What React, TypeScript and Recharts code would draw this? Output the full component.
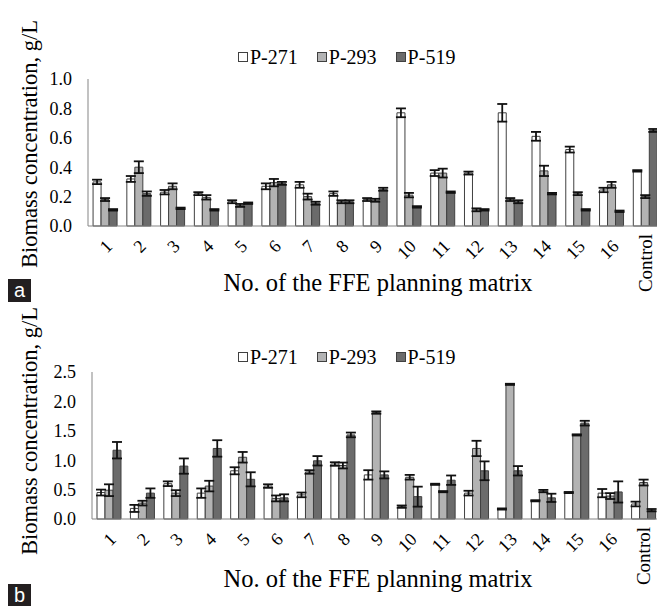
import { BarChart, Bar, XAxis, YAxis, ErrorBar } from "recharts";

const categories = ["1", "2", "3", "4", "5", "6", "7", "8", "9", "10", "11", "12", "13", "14", "15", "16", "Control"];

// panel a
const a271 = [0.3, 0.32, 0.23, 0.22, 0.165, 0.27, 0.28, 0.22, 0.18, 0.77, 0.36, 0.36, 0.77, 0.61, 0.52, 0.245, 0.375];
const a293 = [0.18, 0.4, 0.27, 0.195, 0.14, 0.295, 0.2, 0.165, 0.175, 0.21, 0.36, 0.11, 0.18, 0.375, 0.22, 0.28, 0.2];
const a519 = [0.11, 0.22, 0.12, 0.11, 0.155, 0.29, 0.155, 0.165, 0.25, 0.13, 0.23, 0.11, 0.165, 0.22, 0.11, 0.1, 0.65];
const a271Err = [0.015, 0.02, 0.015, 0.01, 0.01, 0.02, 0.02, 0.015, 0.01, 0.03, 0.02, 0.01, 0.06, 0.03, 0.02, 0.015, 0.005];
const a293Err = [0.01, 0.04, 0.02, 0.015, 0.01, 0.025, 0.02, 0.01, 0.01, 0.015, 0.03, 0.01, 0.01, 0.035, 0.01, 0.02, 0.01];
const a519Err = [0.005, 0.015, 0.005, 0.005, 0.005, 0.01, 0.01, 0.01, 0.01, 0.005, 0.005, 0.005, 0.01, 0.005, 0.005, 0.005, 0.01];

// panel b
const b271 = [0.45, 0.18, 0.6, 0.44, 0.82, 0.56, 0.41, 0.935, 0.75, 0.21, 0.59, 0.44, 0.17, 0.31, 0.45, 0.44, 0.255];
const b293 = [0.49, 0.27, 0.44, 0.56, 1.05, 0.35, 0.8, 0.91, 1.81, 0.71, 0.465, 1.2, 2.29, 0.475, 1.43, 0.39, 0.62];
const b519 = [1.17, 0.44, 0.9, 1.2, 0.675, 0.36, 0.99, 1.43, 0.75, 0.38, 0.66, 0.82, 0.82, 0.36, 1.63, 0.46, 0.15];
const b271Err = [0.05, 0.06, 0.04, 0.08, 0.06, 0.03, 0.04, 0.03, 0.08, 0.02, 0.01, 0.04, 0.01, 0.01, 0.01, 0.07, 0.04];
const b293Err = [0.1, 0.04, 0.05, 0.09, 0.09, 0.05, 0.03, 0.05, 0.02, 0.04, 0.01, 0.13, 0.01, 0.02, 0.01, 0.05, 0.05];
const b519Err = [0.14, 0.08, 0.13, 0.14, 0.12, 0.06, 0.08, 0.04, 0.06, 0.17, 0.08, 0.16, 0.08, 0.07, 0.04, 0.18, 0.02];

const ticksA = [0, 0.2, 0.4, 0.6, 0.8, 1.0];
const ticksB = [0, 0.5, 1.0, 1.5, 2.0, 2.5];

const seriesNames = ["P-271", "P-293", "P-519"];
const fills = ["#ffffff", "#b3b3b3", "#6b6b6b"];
const edge = "#404040";
const axisColor = "#858585";
const serif = "Times New Roman, Liberation Serif, DejaVu Serif, serif";

const rows = (s1: number[], s2: number[], s3: number[], e1: number[], e2: number[], e3: number[]) =>
  categories.map((name, i) => ({ name, v1: s1[i], v2: s2[i], v3: s3[i], e1: e1[i], e2: e2[i], e3: e3[i] }));

const dataA = rows(a271, a293, a519, a271Err, a293Err, a519Err);
const dataB = rows(b271, b293, b519, b271Err, b293Err, b519Err);

const CatTick = (props: any) => {
  const { x, y, payload } = props;
  if (payload.value === "Control") {
    return (
      <text x={x} y={y + 8} dy="0.35em" textAnchor="end" fontSize={19} fontFamily={serif} fill="#000"
        transform={`rotate(-90, ${x}, ${y + 8})`}>
        {payload.value}
      </text>
    );
  }
  const ax = x + 4;
  const ay = y + 17;
  return (
    <text x={ax} y={ay} dy="0.35em" textAnchor="end" fontSize={18} fontFamily={serif} fill="#000"
      transform={`rotate(-45, ${ax}, ${ay})`}>
      {payload.value}
    </text>
  );
};

const Panel = ({ data, ticks, max, yWidth, top, right, xHeight, height }: any) => (
  <BarChart width={657} height={height} data={data} barCategoryGap="15%" barGap={0}
    margin={{ top, right, left: 0, bottom: 0 }}>
    <XAxis dataKey="name" interval={0} height={xHeight} tickLine={false} tickSize={0} tickMargin={0}
      axisLine={{ stroke: axisColor }} tick={<CatTick />} />
    <YAxis width={yWidth} domain={[0, max]} ticks={ticks} tickLine={false} tickSize={0} tickMargin={16}
      axisLine={{ stroke: axisColor }} tickFormatter={(v: number) => v.toFixed(1)}
      tick={{ fontSize: 18, fontFamily: serif, fill: "#000" }} />
    {["v1", "v2", "v3"].map((k, i) => (
      <Bar key={k} dataKey={k} fill={fills[i]} stroke={edge} strokeWidth={1} isAnimationActive={false}>
        <ErrorBar dataKey={`e${i + 1}`} width={5} strokeWidth={1.8} stroke="#111" />
      </Bar>
    ))}
  </BarChart>
);

const Legend = ({ left, top }: { left: number; top: number }) => (
  <div style={{ position: "absolute", left, top, display: "flex", alignItems: "center", fontFamily: serif, fontSize: 20, lineHeight: "22px" }}>
    {seriesNames.map((n, i) => (
      <div key={n} style={{ display: "flex", alignItems: "center", marginRight: 19 }}>
        <span style={{ width: 8, height: 8, background: fills[i], border: `1px solid ${edge}`, marginRight: 2 }} />
        <span>{n}</span>
      </div>
    ))}
  </div>
);

const YTitle = ({ cy }: { cy: number }) => (
  <div style={{ position: "absolute", left: 22 - 140, top: cy - 13, width: 280, height: 26, lineHeight: "26px",
    textAlign: "center", fontFamily: serif, fontSize: 22.5, transform: "rotate(-90deg)", whiteSpace: "nowrap" }}>
    Biomass concentration, g/L
  </div>
);

const XTitle = ({ cy }: { cy: number }) => (
  <div style={{ position: "absolute", left: 370 - 200, top: cy - 14, width: 400, height: 28, lineHeight: "28px",
    textAlign: "center", fontFamily: serif, fontSize: 24.5, whiteSpace: "nowrap" }}>
    No. of the FFE planning matrix
  </div>
);

const Tag = ({ top, label }: { top: number; label: string }) => (
  <div style={{ position: "absolute", left: 0, top, width: 23, height: 23, background: "#231f20", color: "#fff",
    fontFamily: "Liberation Sans, Arial, sans-serif", fontSize: 20, lineHeight: "22px", textAlign: "center" }}>
    {label}
  </div>
);

export default function App() {
  return (
    <div style={{ position: "relative", width: 657, height: 598, fontFamily: serif }}>
      <div style={{ position: "absolute", left: -1, top: -1, width: 700, height: 700, borderLeft: "1px solid #8a8a8a", borderTop: "1px solid #8a8a8a" }} />
      <div style={{ position: "absolute", left: 0, top: 0 }}>
        <Panel data={dataA} ticks={ticksA} max={1} yWidth={80} top={71} right={3} xHeight={67} height={285} />
      </div>
      <div style={{ position: "absolute", left: 0, top: 292 }}>
        <Panel data={dataB} ticks={ticksB} max={2.5} yWidth={84} top={72} right={5} xHeight={87} height={306} />
      </div>
      <Legend left={230} top={38} />
      <Legend left={230} top={338} />
      <YTitle cy={136} />
      <YTitle cy={423} />
      <XTitle cy={275} />
      <XTitle cy={571} />
      <Tag top={271} label="a" />
      <Tag top={576} label="b" />
    </div>
  );
}
